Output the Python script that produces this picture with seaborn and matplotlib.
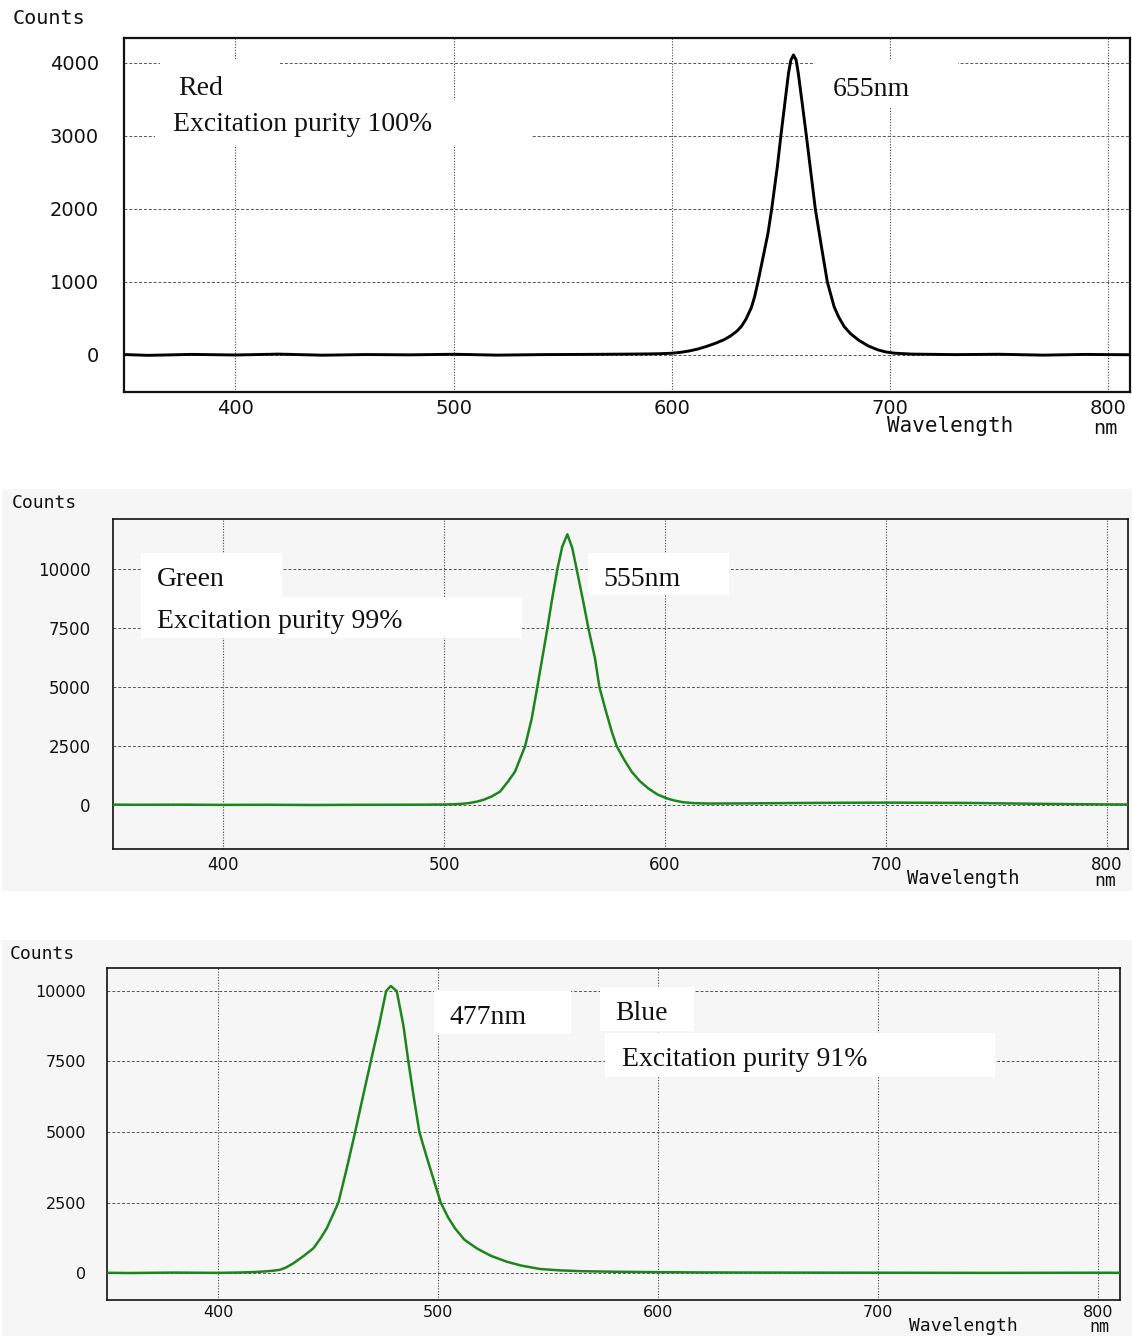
import pandas as pd
import seaborn as sns
import matplotlib
matplotlib.use("Agg")
import matplotlib.pyplot as plt
from matplotlib.patches import Rectangle

# ---- data (wavelength nm, counts) ----
red_nm = [345, 360, 380, 400, 420, 440, 460, 480, 500, 520, 540, 560, 580, 590,
          595, 600, 604, 608, 612, 616, 620, 624, 627, 630, 632, 634, 636.5,
          638, 639.5, 642, 644.1, 645.8, 648.4, 650, 652, 653.5, 654.6, 655.8,
          657, 658, 660, 661.7, 664, 665.8, 668.6, 671.3, 674.4, 676.5, 679,
          682, 685.8, 690, 694.3, 698, 702, 710, 730, 750, 770, 790, 800, 815]
red_counts = [10, -5, 8, 0, 12, -3, 6, 2, 10, -2, 5, 8, 12, 15,
              18, 24, 36, 55, 82, 118, 160, 210, 262, 330, 395, 490, 650,
              800, 1000, 1360, 1667, 2000, 2580, 3000, 3490, 3859, 4040, 4110,
              4040, 3859, 3400, 3000, 2440, 2000, 1484, 1000, 662, 520, 390,
              290, 200, 125, 72, 42, 25, 12, 5, 10, -2, 8, 5, 3]

green_nm = [345, 360, 380, 400, 420, 440, 460, 480, 490, 500, 504, 508, 511.5,
            514.8, 518, 521.5, 525.3, 529, 532.1, 534.5, 536.7, 539.7, 542.2,
            544.5, 546.8, 548.7, 551.3, 553.5, 555.8, 558, 560, 563.3, 565.3,
            568.3, 570.3, 573, 575.9, 578.1, 581.5, 584.9, 588.5, 592.4, 596.5,
            600.8, 604, 608, 612.8, 620, 640, 660, 680, 700, 720, 740, 760, 780,
            800, 815]
green_counts = [20, 10, 15, 5, 10, 0, 8, 12, 15, 22, 30, 50, 85,
                141, 225, 360, 565, 1000, 1412, 1980, 2500, 3672, 5000,
                6250, 7500, 8615, 10000, 10950, 11469, 10900, 10000, 8474, 7500,
                6215, 5000, 4060, 3107, 2500, 1920, 1412, 1020, 706, 450,
                282, 195, 120, 80, 62, 70, 85, 95, 100, 95, 85, 60, 40,
                25, 20]

blue_nm = [345, 360, 380, 400, 410, 416, 421, 425, 428.2, 431, 434.2, 439, 443.3,
           446.5, 449.4, 452, 454.7, 458.5, 462.3, 466.0, 469.4, 473.2, 476.4,
           478.5, 481.2, 484.2, 486.5, 488.8, 491.5, 494, 496.4, 501.2, 504.5,
           507.7, 512, 517.6, 524, 531.2, 538, 546.4, 555, 565, 580, 600, 620,
           650, 700, 750, 800, 815]
blue_counts = [10, 0, 15, 5, 18, 32, 55, 80, 115, 200, 343, 610, 875,
               1220, 1584, 2030, 2500, 3712, 5000, 6312, 7500, 8794, 10000,
               10177, 10000, 8794, 7500, 6312, 5000, 4330, 3712, 2500, 1980,
               1584, 1180, 875, 610, 401, 260, 142, 95, 65, 45, 30, 20,
               15, 10, 5, 10, 5]

x_ticks = [400, 500, 600, 700, 800]
red_yticks = [0, 1000, 2000, 3000, 4000]
gb_yticks = [0, 2500, 5000, 7500, 10000]

W, H = 1132, 1336
GRAY = "#f6f6f6"
GREEN = "#1c861c"

sns.set_style("white")
plt.rcParams["font.family"] = ["DejaVu Sans"]

fig = plt.figure(figsize=(W / 100, H / 100), dpi=100)
fig.patch.set_facecolor("white")

# gray panels behind the lower two charts
for top, bottom in [(489, 891), (940, 1336)]:
    fig.patches.append(Rectangle((2 / W, 1 - bottom / H), 1 - 2 / W, (bottom - top) / H,
                                 transform=fig.transFigure, facecolor=GRAY,
                                 edgecolor="none", zorder=-1))

panels = [
    dict(box=(124, 38, 1130, 392), nm=red_nm, counts=red_counts, color="black", lw=2.1,
         xlim=(349, 810), ylim=(-507, 4342), yticks=red_yticks, bg="white",
         tick_fs=14, xpad=5, lab_fs=14.5, wl_fs=15, nm_fs=14.5, spine_lw=1.6, ypad=18,
         counts_xy=(13, 19), wl_xy=(887, 426), nm_xy=(1105, 428),
         boxes=[(160, 60, 280, 100), (155, 100, 532, 145), (815, 60, 958, 108)],
         texts=[("Red", 178, 95), ("Excitation purity 100%", 173, 131), ("655nm", 833, 96)]),
    dict(box=(113, 519, 1128, 849), nm=green_nm, counts=green_counts, color=GREEN, lw=1.8,
         xlim=(350.2, 809.5), ylim=(-1864, 12119), yticks=gb_yticks, bg=GRAY,
         tick_fs=12, xpad=5, lab_fs=13, wl_fs=13.5, nm_fs=13, spine_lw=1.2, ypad=16,
         counts_xy=(12, 503), wl_xy=(907, 879), nm_xy=(1105, 881),
         boxes=[(141, 553, 282, 597), (141, 597, 522, 638), (588, 553, 729, 595)],
         texts=[("Green", 157, 586), ("Excitation purity 99%", 157, 628), ("555nm", 603, 586)]),
    dict(box=(107, 968, 1120, 1300), nm=blue_nm, counts=blue_counts, color=GREEN, lw=1.8,
         xlim=(349.5, 810), ylim=(-957, 10815), yticks=gb_yticks, bg=GRAY,
         tick_fs=11.5, xpad=3.5, lab_fs=13, wl_fs=13, nm_fs=12, spine_lw=1.2, ypad=15,
         counts_xy=(10, 954), wl_xy=(909, 1326), nm_xy=(1099, 1327),
         boxes=[(434, 991, 571, 1034), (600, 987, 694, 1031), (605, 1033, 995, 1077)],
         texts=[("477nm", 449, 1024), ("Blue", 615, 1020), ("Excitation purity 91%", 622, 1066)]),
]

for p in panels:
    l, t, r, b = p["box"]
    ax = fig.add_axes([l / W, 1 - b / H, (r - l) / W, (b - t) / H])
    ax.set_facecolor(p["bg"])

    df = pd.DataFrame({"nm": p["nm"], "counts": p["counts"]})
    sns.lineplot(data=df, x="nm", y="counts", ax=ax, color=p["color"],
                 linewidth=p["lw"], zorder=3)

    # white label boxes (hide the grid like in the original)
    for x0, y0, x1, y1 in p["boxes"]:
        ax.add_patch(Rectangle((x0 / W, 1 - y1 / H), (x1 - x0) / W, (y1 - y0) / H,
                               transform=fig.transFigure, facecolor="white",
                               edgecolor="none", zorder=1.5))

    ax.set_xlim(*p["xlim"])
    ax.set_ylim(*p["ylim"])
    ax.set_xticks(x_ticks)
    ax.set_yticks(p["yticks"])
    ax.set_xlabel("")
    ax.set_ylabel("")
    ax.tick_params(axis="both", length=0, labelsize=p["tick_fs"], colors="#111111")
    ax.tick_params(axis="x", pad=p["xpad"])
    ax.tick_params(axis="y", pad=p["ypad"])

    ax.set_axisbelow(True)
    ax.xaxis.grid(True, color="#444444", linestyle=(0, (1, 1.5)), linewidth=0.8)
    ax.yaxis.grid(True, color="#555555", linestyle=(0, (3, 2)), linewidth=0.7)
    for s in ax.spines.values():
        s.set_visible(True)
        s.set_color("#111111")
        s.set_linewidth(p["spine_lw"])

    for txt, x, y in p["texts"]:
        fig.text(x / W, 1 - y / H, txt, ha="left", va="baseline",
                 fontsize=20, family="Liberation Serif", color="#111111", zorder=5)

    cx, cy = p["counts_xy"]
    fig.text(cx / W, 1 - cy / H, "Counts", ha="left", va="center",
             fontsize=p["lab_fs"], family="DejaVu Sans Mono", color="#111111")
    wx, wy = p["wl_xy"]
    fig.text(wx / W, 1 - wy / H, "Wavelength", ha="left", va="center",
             fontsize=p["wl_fs"], family="DejaVu Sans Mono", color="#111111")
    nx, ny = p["nm_xy"]
    fig.text(nx / W, 1 - ny / H, "nm", ha="center", va="center",
             fontsize=p["nm_fs"], family="DejaVu Sans Mono", color="#111111")

plt.savefig("out.png", dpi=100, facecolor="white")
